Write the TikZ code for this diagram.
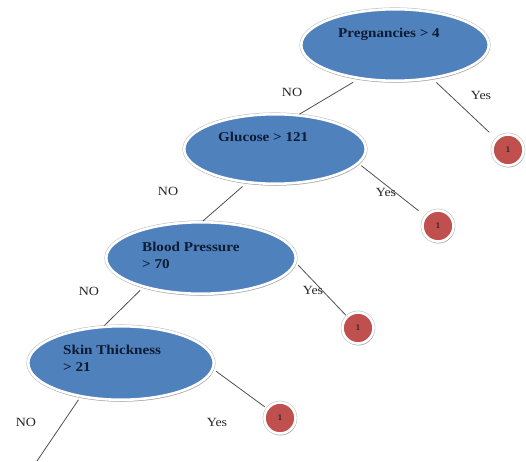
\documentclass[tikz,border=0pt]{standalone}
\usepackage{fontspec}
\setmainfont{Liberation Serif}
\newfontfamily\wideserif[FakeStretch=1.12]{Liberation Serif}
\usetikzlibrary{shapes.geometric,shadows}
\definecolor{nodeblue}{HTML}{4F81BD}
\definecolor{leafred}{HTML}{C0504D}
\definecolor{navytext}{HTML}{0E1B33}
\definecolor{edgegray}{HTML}{505050}
\tikzset{
  ringed/.style={preaction={draw=gray!55, line width=3.6pt}, draw=white, line width=2.6pt,
    drop shadow={shadow xshift=0.8pt, shadow yshift=-2pt, opacity=0.45}},
  testnode/.style={ellipse, fill=nodeblue, ringed, inner sep=0pt},
  testtext/.style={anchor=north west, inner sep=0pt, align=left, text=navytext,
    font=\wideserif\fontsize{13.5}{16.5}\selectfont\bfseries},
  leafnode/.style={circle, fill=leafred, ringed, minimum size=31pt, inner sep=0pt,
    font=\fontsize{8}{9}\selectfont\bfseries\sffamily, text=black!85},
  branch/.style={draw=edgegray, line width=0.8pt},
  branchlabel/.style={inner sep=0pt, font=\wideserif\fontsize{12.5}{14}\selectfont, text=black!85}
}
\begin{document}
\begin{tikzpicture}[x=1pt,y=-1pt]
\useasboundingbox (0,0) rectangle (526,461);
\node[testnode, minimum width=187.5pt, minimum height=71.5pt] (e1) at (395,45) {};
\node[testnode, minimum width=181.5pt, minimum height=69.5pt] (e2) at (275,149) {};
\node[testnode, minimum width=189.5pt, minimum height=71.5pt] (e3) at (201,258) {};
\node[testnode, minimum width=185.5pt, minimum height=73.5pt] (e4) at (121,363) {};
\node[leafnode] (c1) at (508,150) {1};
\node[leafnode] (c2) at (438,226) {1};
\node[leafnode] (c3) at (358,328) {1};
\node[leafnode] (c4) at (280,418) {1};
\coordinate (bottomend) at (37,461);

\node[testtext] (t1) at (338,28) {Pregnancies > 4};
\node[testtext] (t2) at (218,132) {Glucose > 121};
\node[testtext] (t3) at (142,242) {Blood Pressure\\> 70};
\node[testtext] (t4) at (63,345) {Skin Thickness\\> 21};

\draw[branch, shorten <=6pt] (e1.223) -- (e2.55);
\draw[branch, shorten <=5pt, shorten >=9pt] (e1.318) -- (c1);
\draw[branch, shorten <=5pt] (e2.230) -- (e3.87);
\draw[branch, shorten <=3pt, shorten >=8pt] (e2.350) -- (c2);
\draw[branch, shorten <=4pt] (e3.207) -- (e4.114);
\draw[branch, shorten <=3pt, shorten >=1pt] (e3.357) -- (c3);
\draw[branch, shorten <=3pt] (e4.220) -- (bottomend);
\draw[branch, shorten <=3pt, shorten >=2pt] (e4.356) -- (c4);

\node[branchlabel] (n1) at (292,92) {NO};
\node[branchlabel] (y1) at (481,95) {Yes};
\node[branchlabel] (n2) at (168,191) {NO};
\node[branchlabel] (y2) at (386,192) {Yes};
\node[branchlabel] (n3) at (89,291) {NO};
\node[branchlabel] (y3) at (313,290) {Yes};
\node[branchlabel] (n4) at (26,422) {NO};
\node[branchlabel] (y4) at (217,422) {Yes};
\end{tikzpicture}
\end{document}
